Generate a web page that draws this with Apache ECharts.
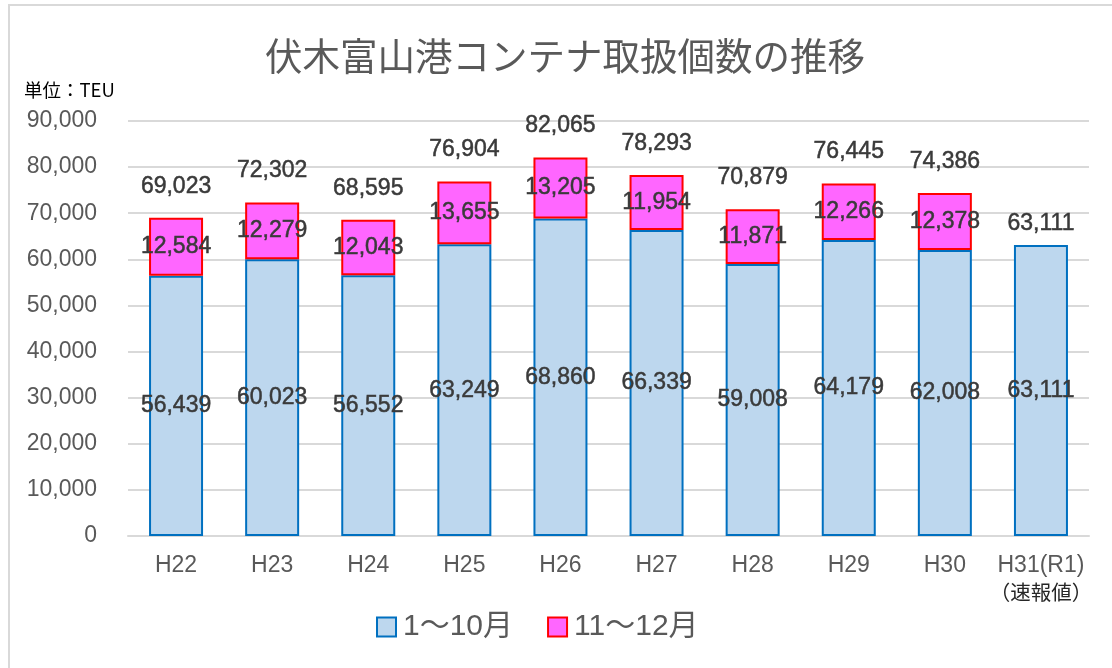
<!DOCTYPE html>
<html>
<head>
<meta charset="utf-8">
<title>伏木富山港コンテナ取扱個数の推移</title>
<script src="https://cdn.jsdelivr.net/npm/echarts@6/dist/echarts.min.js"></script>
<style>
  html, body { margin: 0; padding: 0; background: #fff; }
  #chart { width: 1112px; height: 668px; }
</style>
</head>
<body>
<div id="chart"></div>
<script>
// 年度
const categories = ['H22', 'H23', 'H24', 'H25', 'H26', 'H27', 'H28', 'H29', 'H30', 'H31(R1)'];
// 1～10月
const janOct = [56439, 60023, 56552, 63249, 68860, 66339, 59008, 64179, 62008, 63111];
// 11～12月 (H31は未確定)
const novDec = [12584, 12279, 12043, 13655, 13205, 11954, 11871, 12266, 12378, null];
// 合計
const totals = [69023, 72302, 68595, 76904, 82065, 78293, 70879, 76445, 74386, 63111];
const yTicks = [0, 10000, 20000, 30000, 40000, 50000, 60000, 70000, 80000, 90000];

const latin = '"Liberation Sans", Arial, sans-serif';
const jp = '"Liberation Sans", "Noto Sans CJK JP", sans-serif';

const fmt = v => String(v).replace(/\B(?=(\d{3})+(?!\d))/g, ',');

// データラベル共通
const valueLabel = {
  fontFamily: latin, fontSize: 23, color: '#3a3a3a',
  textBorderColor: '#3a3a3a', textBorderWidth: 0.5,
  formatter: p => fmt(p.value)
};

const chart = echarts.init(document.getElementById('chart'));

const option = {
  animation: false,
  title: [
    {
      text: '伏木富山港コンテナ取扱個数の推移',
      left: 260,
      top: 32,
      textStyle: { fontFamily: '"Noto Sans CJK JP", sans-serif', fontSize: 37.5, fontWeight: 'normal', color: '#595959' }
    },
    {
      text: '単位：TEU',
      left: 19,
      top: 76,
      textStyle: { fontFamily: '"Noto Sans CJK JP", sans-serif', fontSize: 18.5, fontWeight: 'normal', color: '#000' }
    }
  ],
  graphic: [{
    type: 'rect',
    silent: true,
    shape: { x: 9, y: 5, width: 1200, height: 800 },
    style: { fill: 'none', stroke: '#d9d9d9', lineWidth: 2 }
  }],
  legend: {
    data: ['1～10月', '11～12月'],
    left: 376,
    top: 612,
    padding: 0,
    icon: 'rect',
    itemWidth: 19,
    itemHeight: 19,
    itemGap: 34,
    textStyle: { fontFamily: jp, fontSize: 30, color: '#595959', padding: [0, 0, 0, 2] }
  },
  grid: { left: 128, right: 23, top: 121, bottom: 132 },
  xAxis: {
    type: 'category',
    data: categories,
    axisTick: { show: false },
    axisLine: { lineStyle: { color: '#d9d9d9', width: 2 } },
    axisLabel: {
      margin: 18,
      interval: 0,
      fontFamily: latin,
      fontSize: 23,
      color: '#595959',
      formatter: v => v === 'H31(R1)' ? v + '\n{n|（速報値）}' : v,
      rich: {
        n: { fontFamily: '"Noto Sans CJK JP", sans-serif', fontSize: 20.5, color: '#262626', lineHeight: 30 }
      }
    }
  },
  yAxis: {
    type: 'value',
    min: yTicks[0],
    max: yTicks[yTicks.length - 1],
    interval: yTicks[1] - yTicks[0],
    axisLine: { show: false },
    axisTick: { show: false },
    splitLine: { lineStyle: { color: '#d9d9d9', width: 2 } },
    axisLabel: { margin: 31, fontFamily: latin, fontSize: 23, color: '#595959', formatter: fmt }
  },
  series: [
    {
      name: '1～10月',
      type: 'bar',
      stack: 'total',
      barWidth: 54,
      data: janOct,
      itemStyle: { color: '#BDD7EE', borderColor: '#0070C0', borderWidth: 2 },
      label: Object.assign({ show: true, position: 'inside' }, valueLabel)
    },
    {
      name: '11～12月',
      type: 'bar',
      stack: 'total',
      barWidth: 54,
      data: novDec.map(v => v == null ? '-' : v),
      itemStyle: { color: '#FF66FF', borderColor: '#FF0000', borderWidth: 2 },
      label: Object.assign({ show: true, position: 'inside' }, valueLabel)
    },
    {
      name: '合計',
      type: 'bar',
      barWidth: 54,
      barGap: '-100%',
      silent: true,
      data: totals.map((v, i) => novDec[i] == null ? { value: v, label: { distance: 10 } } : v),
      itemStyle: { color: 'rgba(0,0,0,0)' },
      label: Object.assign({ show: true, position: 'top', distance: 20 }, valueLabel)
    }
  ]
};

chart.setOption(option);
window.addEventListener('resize', () => chart.resize());
</script>
</body>
</html>
